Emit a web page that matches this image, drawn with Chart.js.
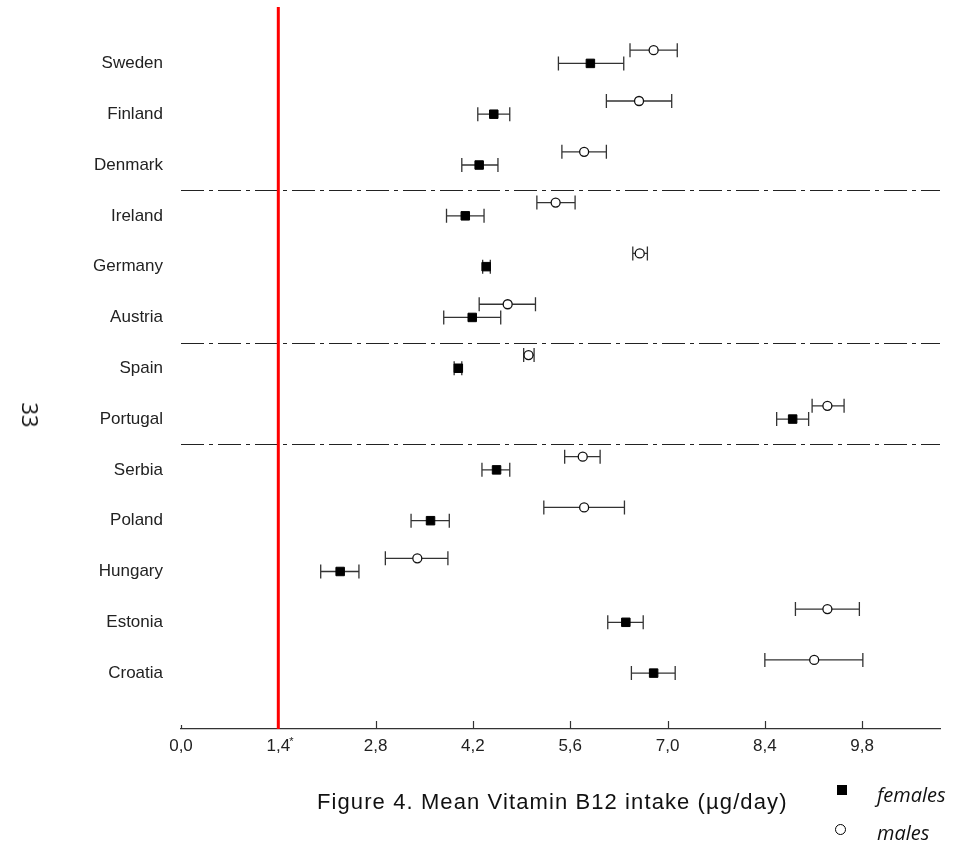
<!DOCTYPE html>
<html>
<head>
<meta charset="utf-8">
<script src="https://cdn.jsdelivr.net/npm/chart.js@4.4.0/dist/chart.umd.min.js"></script>
<style>
  body { margin: 0; background: #fff; }
  #wrap { position: relative; width: 953px; height: 848px; }
  #chart { position: absolute; left: 0; top: 0; }
  .txt { position: absolute; color: #111; white-space: nowrap; line-height: 1; }
  #caption { left: 317px; top: 789px; font: 22px "Liberation Sans", Arial, sans-serif; letter-spacing: 1.1px; }
  #page { left: 31px; top: 415px; font: 22px "Open Sans", sans-serif; transform: translate(-50%, -50%) rotate(90deg); }
  .leg { font: italic 20px "Open Sans", sans-serif; left: 877px; }
  #sq { position: absolute; left: 837px; top: 785px; width: 10px; height: 10px; background: #000; }
  #ci { position: absolute; left: 835px; top: 824px; width: 9px; height: 9px; border: 1.6px solid #000; border-radius: 50%; }
</style>
</head>
<body>
<div id="wrap">
  <canvas id="chart" width="953" height="848"></canvas>
  <div class="txt" id="page">33</div>
  <div class="txt" id="caption">Figure 4. Mean Vitamin B12 intake (µg/day)</div>
  <div id="sq"></div>
  <div class="txt leg" style="top:781px">females</div>
  <div id="ci"></div>
  <div class="txt leg" style="top:819px">males</div>
</div>
<script>
var countries = ['Sweden', 'Finland', 'Denmark', 'Ireland', 'Germany', 'Austria', 'Spain',
                 'Portugal', 'Serbia', 'Poland', 'Hungary', 'Estonia', 'Croatia'];
var femaleMean = [5.89, 4.50, 4.29, 4.09, 4.39, 4.19, 3.99, 8.80, 4.54, 3.59, 2.29, 6.40, 6.80];
var femaleLow  = [5.43, 4.27, 4.04, 3.82, 4.34, 3.78, 3.93, 8.57, 4.33, 3.31, 2.01, 6.14, 6.48];
var femaleHigh = [6.37, 4.73, 4.56, 4.36, 4.45, 4.60, 4.04, 9.03, 4.73, 3.86, 2.56, 6.65, 7.11];
var maleMean = [6.80, 6.59, 5.80, 5.39, 6.60, 4.70, 5.00, 9.30, 5.78, 5.80, 3.40, 9.30, 9.11];
var maleLow  = [6.46, 6.12, 5.48, 5.12, 6.50, 4.29, 4.93, 9.08, 5.52, 5.22, 2.94, 8.84, 8.40];
var maleHigh = [7.14, 7.06, 6.12, 5.67, 6.71, 5.10, 5.08, 9.54, 6.03, 6.38, 3.84, 9.76, 9.81];
var xTicks = [0, 1.4, 2.8, 4.2, 5.6, 7.0, 8.4, 9.8];
var groupBreaks = [2.5, 5.5, 7.5];
var refIntake = 1.4;

var maleShift = -0.26; // males sit a bit above the country row

var femalePts = femaleMean.map(function(v, i){ return {x: v, y: i}; });
var malePts = maleMean.map(function(v, i){ return {x: v, y: i + maleShift}; });

var extras = {
  id: 'extras',
  beforeDatasetsDraw: function(chart){
    var ctx = chart.ctx, a = chart.chartArea, x = chart.scales.x, y = chart.scales.y;
    ctx.save();
    // dash-dot separators between country groups
    ctx.strokeStyle = '#222';
    ctx.lineWidth = 1.2;
    ctx.setLineDash([23, 5, 4, 5]);
    groupBreaks.forEach(function(b){
      var py = Math.round(y.getPixelForValue(b)) + 0.5;
      ctx.beginPath(); ctx.moveTo(a.left, py); ctx.lineTo(a.right, py); ctx.stroke();
    });
    ctx.setLineDash([]);
    // error bars
    function bars(lo, hi, shift){
      lo.forEach(function(l, i){
        var py = y.getPixelForValue(i + shift);
        var x1 = x.getPixelForValue(l), x2 = x.getPixelForValue(hi[i]);
        ctx.beginPath();
        ctx.moveTo(x1, py); ctx.lineTo(x2, py);
        ctx.moveTo(x1, py - 7); ctx.lineTo(x1, py + 7);
        ctx.moveTo(x2, py - 7); ctx.lineTo(x2, py + 7);
        ctx.stroke();
      });
    }
    ctx.strokeStyle = '#333';
    ctx.lineWidth = 1.3;
    bars(femaleLow, femaleHigh, 0);
    bars(maleLow, maleHigh, maleShift);
    // upward tick marks on the x axis
    ctx.strokeStyle = '#333';
    ctx.lineWidth = 1.2;
    x.ticks.forEach(function(t){
      var px = Math.round(x.getPixelForValue(t.value)) + 0.5;
      ctx.beginPath();
      ctx.moveTo(px, a.bottom); ctx.lineTo(px, a.bottom - (t.value === 0 ? 4 : 8));
      ctx.stroke();
    });
    // reference intake line
    var rx = x.getPixelForValue(refIntake);
    ctx.strokeStyle = '#ff0000';
    ctx.lineWidth = 3;
    ctx.beginPath(); ctx.moveTo(rx, a.top); ctx.lineTo(rx, a.bottom); ctx.stroke();
    // asterisk on the 1,4 tick label
    ctx.fillStyle = '#222';
    ctx.font = '11px "Liberation Sans", Arial, sans-serif';
    ctx.textAlign = 'left';
    ctx.fillText('*', rx + 11, a.bottom + 16);
    ctx.restore();
  }
};

var ctx = document.getElementById('chart').getContext('2d');
var grafica = new Chart(ctx, {
  type: 'scatter',
  data: {
    datasets: [{
      label: 'females',
      data: femalePts,
      pointStyle: 'rect',
      pointRadius: 6,
      backgroundColor: '#000',
      borderColor: '#000',
      borderWidth: 1
    }, {
      label: 'males',
      data: malePts,
      pointStyle: 'circle',
      pointRadius: 4.5,
      backgroundColor: '#fff',
      borderColor: '#111',
      borderWidth: 1.3
    }]
  },
  options: {
    responsive: false,
    animation: false,
    layout: { padding: { top: 7, right: 13, left: 0, bottom: 0 } },
    plugins: { legend: { display: false }, tooltip: { enabled: false } },
    scales: {
      x: {
        type: 'linear',
        min: 0,
        max: 10.92,
        afterBuildTicks: function(scale){
          scale.ticks = xTicks.map(function(v){ return {value: v}; });
        },
        afterFit: function(scale){ scale.height = 119; },
        grid: { display: false, drawTicks: false },
        border: { display: true, color: '#333', width: 1.2 },
        ticks: {
          padding: 7,
          color: '#222',
          font: { family: '"Liberation Sans", Arial, sans-serif', size: 17 },
          callback: function(v){ return v.toFixed(1).replace('.', ','); }
        }
      },
      y: {
        type: 'linear',
        reverse: true,
        min: -1.11,
        max: 13.1,
        afterBuildTicks: function(scale){
          scale.ticks = countries.map(function(c, i){ return {value: i}; });
        },
        afterFit: function(scale){
          scale.width = 181;
          scale.paddingTop = 0;
          scale.paddingBottom = 0;
        },
        grid: { display: false, drawTicks: false },
        border: { display: false },
        ticks: {
          padding: 18,
          color: '#222',
          font: { family: '"Liberation Sans", Arial, sans-serif', size: 17 },
          callback: function(v){ return countries[Math.round(v)]; }
        }
      }
    }
  },
  plugins: [extras]
});
</script>
</body>
</html>
